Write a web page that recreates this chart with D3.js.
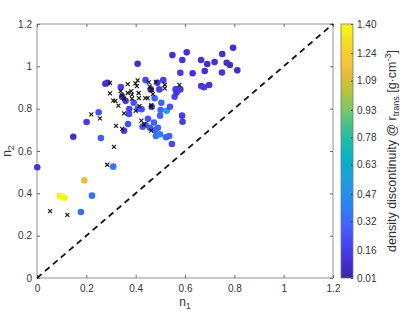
<!DOCTYPE html>
<html>
<head>
<meta charset="utf-8">
<script src="https://cdn.jsdelivr.net/npm/d3@7"></script>
<style>
  body { margin: 0; background: #fff; }
  text { font-family: "Liberation Sans", Arial, sans-serif; fill: #333; }
</style>
</head>
<body>
<script>
var w = 415;
var h = 312;

// filled dots: n1, n2 and density discontinuity
var dotN1 = [0.147, 0.201, 0.250, 0.259, 0.277, 0.285, 0.340, 0.345, 0.359, 0.374, 0.373, 0.369,
  0.353, 0.392, 0.408, 0.409, 0.440, 0.450, 0.440, 0.428, 0.458, 0.461, 0.477, 0.465, 0.488, 0.496,
  0.478, 0.474, 0.490, 0.482, 0.499, 0.501, 0.504, 0.499, 0.512, 0.526, 0.523, 0.539, 0.536, 0.547,
  0.549, 0.558, 0.562, 0.566, 0.581, 0.589, 0.581, 0.588, 0.590, 0.607, 0.631, 0.665, 0.680, 0.690,
  0.666, 0.677, 0.698, 0.720, 0.751, 0.795, 0.769, 0.782, 0.812, 0.750, 0.001, 0.309, 0.192, 0.093,
  0.104, 0.111, 0.223, 0.178, 0.424];
var dotN2 = [0.667, 0.737, 0.783, 0.661, 0.918, 0.922, 0.902, 0.856, 0.837, 0.798, 0.775, 0.727,
  0.696, 0.828, 1.012, 0.800, 0.935, 0.752, 0.723, 0.715, 0.710, 0.891, 0.849, 0.809, 0.922, 0.891,
  0.699, 0.735, 0.710, 0.671, 0.679, 0.794, 0.828, 0.767, 0.935, 0.790, 0.665, 0.809, 0.671, 0.633,
  1.053, 0.856, 0.891, 0.876, 0.891, 1.030, 0.970, 0.767, 0.738, 1.066, 0.967, 1.030, 0.978, 1.011,
  0.907, 0.901, 0.912, 1.020, 1.058, 1.088, 1.017, 1.006, 0.981, 0.971, 0.523, 0.526, 0.461, 0.387,
  0.383, 0.379, 0.389, 0.312, 0.797];
var dotRho = [0.08, 0.15, 0.25, 0.28, 0.10, 0.10, 0.18, 0.08, 0.10, 0.20, 0.20, 0.22,
  0.15, 0.25, 0.08, 0.25, 0.20, 0.25, 0.25, 0.25, 0.25, 0.05, 0.30, 0.20, 0.15, 0.15,
  0.30, 0.30, 0.30, 0.35, 0.40, 0.30, 0.30, 0.30, 0.15, 0.55, 0.30, 0.25, 0.30, 0.20,
  0.10, 0.20, 0.15, 0.12, 0.15, 0.12, 0.15, 0.15, 0.15, 0.10, 0.10, 0.10, 0.10, 0.08,
  0.12, 0.15, 0.12, 0.10, 0.10, 0.08, 0.08, 0.08, 0.10, 0.12, 0.12, 0.35, 1.15, 1.36,
  1.40, 1.38, 0.35, 0.33, 0.25];

// cross markers
var crossN1 = [0.220, 0.255, 0.312, 0.296, 0.296, 0.309, 0.318, 0.330, 0.339, 0.345, 0.353, 0.368,
  0.368, 0.382, 0.385, 0.385, 0.399, 0.408, 0.405, 0.412, 0.413, 0.415, 0.400, 0.353, 0.320, 0.345,
  0.423, 0.434, 0.439, 0.449, 0.453, 0.457, 0.465, 0.470, 0.463, 0.463, 0.482, 0.463, 0.518, 0.518,
  0.577, 0.285, 0.053, 0.123];
var crossN2 = [0.773, 0.754, 0.620, 0.922, 0.872, 0.838, 0.837, 0.814, 0.883, 0.865, 0.847, 0.916,
  0.874, 0.883, 0.866, 0.847, 0.920, 0.934, 0.907, 0.874, 0.850, 0.812, 0.790, 0.778, 0.719, 0.705,
  0.743, 0.724, 0.850, 0.850, 0.924, 0.904, 0.888, 0.869, 0.817, 0.807, 0.927, 0.696, 0.913, 0.896,
  0.912, 0.535, 0.316, 0.298];

var axisTicks = [0, 0.2, 0.4, 0.6, 0.8, 1, 1.2];
var cbTicks = ["0.01", "0.16", "0.32", "0.47", "0.63", "0.78", "0.93", "1.09", "1.24", "1.40"];

// parula colormap samples
var parula = ["#3e26a8", "#4530d6", "#4745f3", "#435ffe", "#2f7bf7", "#2491e8", "#19a2db",
  "#04b2c8", "#1abca9", "#40c38b", "#7bc865", "#b5c43b", "#e5bb3c", "#fdc732", "#f5e022", "#f9fa14"];

var margin = { left: 37, right: 82, top: 24, bottom: 34 };
var pw = w - margin.left - margin.right;
var ph = h - margin.top - margin.bottom;

var svg = d3.select("body").append("svg")
  .attr("width", w)
  .attr("height", h);

svg.append("rect").attr("width", w).attr("height", h).attr("fill", "#fff");

var x = d3.scaleLinear().domain([0, 1.2]).range([0, pw]);
var y = d3.scaleLinear().domain([0, 1.2]).range([ph, 0]);

var cmin = 0.01, cmax = 1.40;
var color = d3.scaleLinear()
  .domain(parula.map((d, i) => cmin + (cmax - cmin) * i / (parula.length - 1)))
  .range(parula)
  .clamp(true);

var g = svg.append("g")
  .attr("transform", "translate(" + [margin.left, margin.top] + ")");

// axes with inward ticks
var tickLen = 3;
g.append("g")
  .attr("transform", "translate(0," + ph + ")")
  .call(d3.axisBottom(x).tickValues(axisTicks).tickSizeInner(-tickLen).tickSizeOuter(0).tickPadding(7)
    .tickFormat(d3.format("~g")));
g.append("g")
  .call(d3.axisLeft(y).tickValues(axisTicks).tickSizeInner(-tickLen).tickSizeOuter(0).tickPadding(5)
    .tickFormat(d3.format("~g")));
g.append("g")
  .call(d3.axisTop(x).tickValues(axisTicks).tickSizeInner(-tickLen).tickSizeOuter(0).tickFormat(""));
g.append("g")
  .attr("transform", "translate(" + pw + ",0)")
  .call(d3.axisRight(y).tickValues(axisTicks).tickSizeInner(-tickLen).tickSizeOuter(0).tickFormat(""));

g.selectAll(".domain").remove();
g.selectAll(".tick line").attr("stroke", "#666");
g.selectAll(".tick text").attr("font-size", 10).attr("fill", "#333");

g.append("rect")
  .attr("width", pw)
  .attr("height", ph)
  .attr("fill", "none")
  .attr("stroke", "#777")
  .attr("stroke-width", 0.8);

// 1:1 line
g.append("line")
  .attr("x1", x(0)).attr("y1", y(0))
  .attr("x2", x(1.2)).attr("y2", y(1.2))
  .attr("stroke", "#111")
  .attr("stroke-width", 1.8)
  .attr("stroke-dasharray", "6,4.5");

// dots
var dots = dotN1.map((d, i) => ({ n1: d, n2: dotN2[i], rho: dotRho[i] }));
g.selectAll("circle.dot")
  .data(dots)
  .enter().append("circle")
  .attr("class", "dot")
  .attr("cx", d => x(d.n1))
  .attr("cy", d => y(d.n2))
  .attr("r", 3.3)
  .attr("fill", d => color(d.rho));

// crosses
var crosses = crossN1.map((d, i) => ({ n1: d, n2: crossN2[i] }));
var s = 2;
g.selectAll("path.cross")
  .data(crosses)
  .enter().append("path")
  .attr("class", "cross")
  .attr("d", d => {
    var cx = x(d.n1), cy = y(d.n2);
    return "M" + (cx - s) + "," + (cy - s) + "L" + (cx + s) + "," + (cy + s) +
      "M" + (cx - s) + "," + (cy + s) + "L" + (cx + s) + "," + (cy - s);
  })
  .attr("stroke", "#111")
  .attr("stroke-width", 1.1);

// axis labels
svg.append("text")
  .attr("x", margin.left + pw / 2)
  .attr("y", 306)
  .attr("text-anchor", "middle")
  .attr("font-size", 12)
  .html('n<tspan font-size="9" dy="3">1</tspan>');

svg.append("text")
  .attr("transform", "translate(11," + (margin.top + ph / 2) + ") rotate(-90)")
  .attr("text-anchor", "middle")
  .attr("font-size", 12)
  .html('n<tspan font-size="9" dy="3">2</tspan>');

// colorbar
var cbX = 341, cbW = 12;
var cbY = d3.scaleLinear().domain([cmin, cmax]).range([margin.top + ph, margin.top]);

var grad = svg.append("defs").append("linearGradient")
  .attr("id", "parula")
  .attr("x1", 0).attr("y1", 1).attr("x2", 0).attr("y2", 0);
grad.selectAll("stop")
  .data(parula)
  .enter().append("stop")
  .attr("offset", (d, i) => i / (parula.length - 1))
  .attr("stop-color", d => d);

svg.append("rect")
  .attr("x", cbX)
  .attr("y", margin.top)
  .attr("width", cbW)
  .attr("height", ph)
  .attr("fill", "url(#parula)")
  .attr("stroke", "#777")
  .attr("stroke-width", 0.8);

var cb = svg.append("g")
  .attr("transform", "translate(" + (cbX + cbW) + ",0)")
  .call(d3.axisRight(cbY).tickValues(cbTicks.map(Number)).tickSizeInner(-2).tickSizeOuter(0).tickPadding(4)
    .tickFormat((d, i) => cbTicks[i]));
cb.select(".domain").remove();
cb.selectAll(".tick line").attr("stroke", "#555");
cb.selectAll(".tick text").attr("font-size", 10).attr("fill", "#333");

svg.append("text")
  .attr("transform", "translate(396," + (margin.top + ph / 2) + ") rotate(-90)")
  .attr("text-anchor", "middle")
  .attr("font-size", 12.5)
  .html('density discontinuity @ r<tspan font-size="9" dy="3">trans</tspan>' +
    '<tspan dy="-3"> [g·cm</tspan><tspan font-size="9" dy="-5">-3</tspan><tspan dy="5">]</tspan>');
</script>
</body>
</html>
